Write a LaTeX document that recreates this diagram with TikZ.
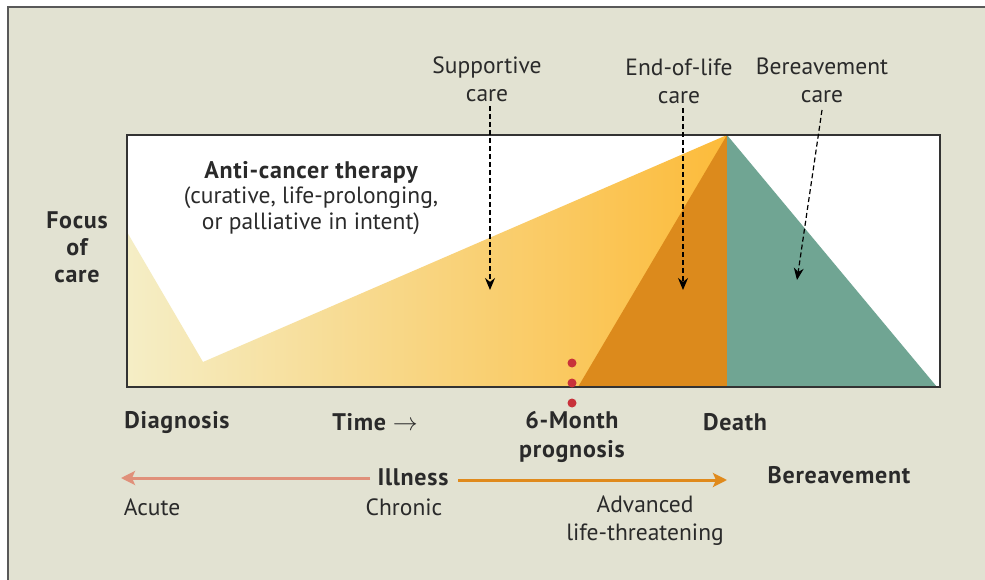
\documentclass[tikz,border=0pt]{standalone}
\usepackage{fontspec}
\setmainfont{PT Sans}[BoldFeatures={LetterSpace=3}]
\usetikzlibrary{arrows.meta}
\definecolor{panel}{HTML}{E2E2D2}
\definecolor{paleY}{HTML}{F5EEC6}
\definecolor{deepY}{HTML}{FCBB3A}
\definecolor{eol}{HTML}{DC8A1C}
\definecolor{teal}{HTML}{70A593}
\definecolor{dotred}{HTML}{C8323A}
\definecolor{pinkarr}{HTML}{E0907A}
\definecolor{orarr}{HTML}{E08A1C}
\definecolor{ink}{HTML}{2A2A2A}
\tikzset{
  lbl/.style={font=\fontsize{23.5}{28}\selectfont, text=ink, align=center, inner sep=0pt},
  blbl/.style={lbl, font=\fontsize{24}{27}\selectfont\bfseries},
  dasharr/.style={draw=black, line width=1.2pt, dash pattern=on 5pt off 3pt, -{Stealth[length=12pt,width=10pt]}},
  illarr/.style={line width=3pt, -{Stealth[length=14pt,width=14pt,inset=3pt]}},
}
\begin{document}
\begin{tikzpicture}[x=1pt,y=-1pt]
\useasboundingbox (0,0) rectangle (985,580);
\fill[white] (0,0) rectangle (985,580);
\draw[fill=panel, draw=black!65, line width=1.5pt] (8,7) rectangle (995,590);
% plot box
\coordinate (bl) at (127,387);
\coordinate (tr) at (940,135);
\fill[white] (bl) rectangle (tr);
% anti-cancer region
\shade[left color=paleY, right color=deepY] (127,232) -- (203,362) -- (727,135) -- (727,387) -- (127,387) -- cycle;
% end-of-life region
\fill[eol] (578,387) -- (727,135) -- (727,387) -- cycle;
% bereavement region
\fill[teal] (727,135) -- (727,387) -- (937,387) -- cycle;
\draw[black!80, line width=1.6pt] (bl) rectangle (tr);
% 6-month dots
\foreach \yy/\nm in {363/d1,383/d2,403/d3} \fill[dotred] (572,\yy) circle (4.5pt) coordinate (\nm);
% top labels
\node[lbl] (sup) at (487,79) {Supportive\\care};
\node[lbl] (eoll) at (679,81) {End-of-life\\care};
\node[lbl] (ber) at (822,80) {Bereavement\\care};
\coordinate (supS) at (490,106);
\coordinate (eolS) at (683,108);
\coordinate (berS) at (822,110);
\coordinate (supE) at (490,290);
\coordinate (eolE) at (683,290);
\coordinate (berE) at (797,280);
\draw[dasharr] (supS) -- (supE);
\draw[dasharr] (eolS) -- (eolE);
\draw[dasharr] (berS) -- (berE);
% therapy text
\node[blbl] (act) at (311,172) {Anti-cancer therapy};
\node[lbl, font=\fontsize{23.5}{26}\selectfont] (actd) at (311,211) {(curative, life-prolonging,\\or palliative in intent)};
% focus of care
\node[blbl] (foc) at (77,247) {Focus\\of\\care};
% timeline labels
\node[blbl] (diag) at (177,423) {Diagnosis};
\node[blbl] (time) at (375,422) {Time {\mdseries$\rightarrow$}};
\node[blbl, font=\fontsize{24}{29}\selectfont\bfseries] (six) at (572,437) {6-Month\\prognosis};
\node[blbl] (death) at (735,422) {Death};
% illness arrows
\node[blbl] (ill) at (413,477) {Illness};
\node[blbl] (bere) at (839,475) {Bereavement};
\coordinate (acuteS) at (370,478);
\coordinate (acuteE) at (121,478);
\coordinate (advS) at (458,480);
\coordinate (advE) at (727,480);
\draw[illarr, pinkarr] (acuteS) -- (acuteE);
\draw[illarr, orarr] (advS) -- (advE);
\node[lbl] (acute) at (152,507) {Acute};
\node[lbl] (chron) at (404,507) {Chronic};
\node[lbl] (adv) at (645,521) {Advanced\\life-threatening};
\end{tikzpicture}
\end{document}
